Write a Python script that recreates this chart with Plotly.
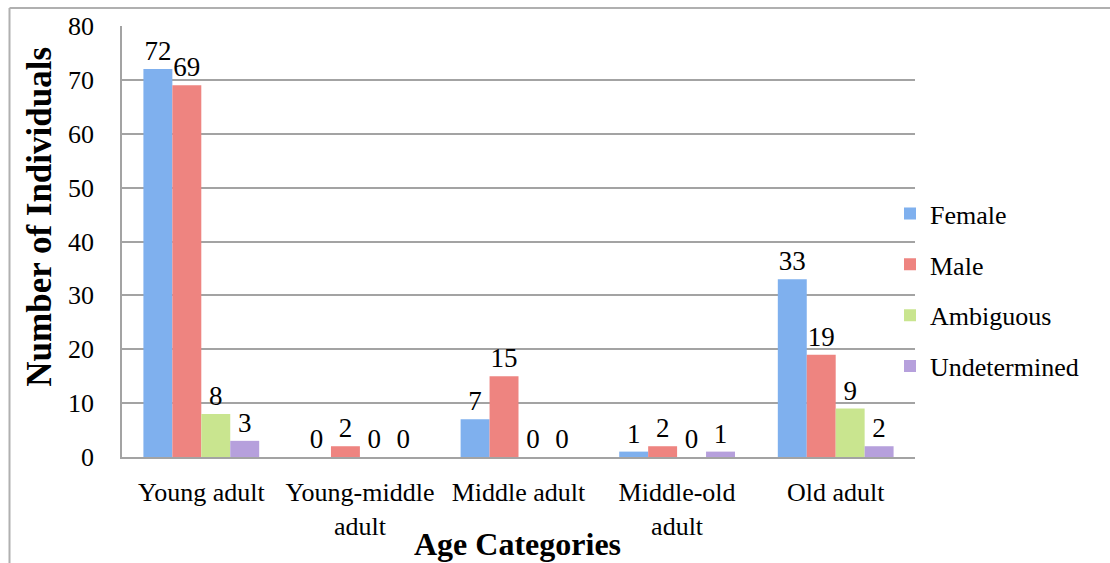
import plotly.graph_objects as go

# Age categories on the x axis
categories = ["Young adult", "Young-middle<br>adult", "Middle adult", "Middle-old<br>adult", "Old adult"]

# Counts per sex estimate
female = [72, 0, 7, 1, 33]
male = [69, 2, 15, 2, 19]
ambiguous = [8, 0, 0, 0, 9]
undetermined = [3, 0, 0, 1, 2]

series_names = ["Female", "Male", "Ambiguous", "Undetermined"]
series_values = [female, male, ambiguous, undetermined]
series_colors = ["#7FB0EE", "#EE8480", "#C9E58F", "#B6A0DC"]

y_ticks = [0, 10, 20, 30, 40, 50, 60, 70, 80]

FONT = "Liberation Serif"

fig = go.Figure()
for name, vals, col in zip(series_names, series_values, series_colors):
    fig.add_trace(go.Bar(
        x=categories,
        y=vals,
        name=name,
        legendgroup=name,
        marker=dict(color=col, line=dict(width=0)),
        text=[str(v) for v in vals],
        textposition="outside",
        textfont=dict(family=FONT, size=27, color="black"),
        cliponaxis=False,
    ))

# plot area: x 122..915, y 23..457 within a 1110x563 canvas
L, R, T, B = 122, 195, 23, 106
W, H = 1110 - L - R, 563 - T - B

def px(x):
    return (x - L) / W

def py(y):
    return (563 - B - y) / H

grid_col = "#A3A3A3"

fig.update_layout(
    width=1110,
    height=563,
    margin=dict(l=L, r=R, t=T, b=B, pad=0),
    paper_bgcolor="white",
    plot_bgcolor="white",
    barmode="group",
    bargap=0.27,
    bargroupgap=0,
    font=dict(family=FONT, size=26, color="black"),
    showlegend=True,
    legend=dict(
        x=px(890), y=py(289), xanchor="left", yanchor="middle",
        font=dict(family=FONT, size=26, color="black"),
        traceorder="grouped",
        tracegroupgap=14,
        itemwidth=30,
        bgcolor="rgba(0,0,0,0)",
    ),
    xaxis=dict(
        showgrid=False,
        showline=True,
        linecolor=grid_col,
        linewidth=2,
        ticks="",
        tickfont=dict(family=FONT, size=26, color="black"),
        ticklabelstandoff=11,
    ),
    yaxis=dict(
        range=[0, 80],
        tickvals=y_ticks,
        showgrid=True,
        gridcolor=grid_col,
        gridwidth=1.5,
        showline=True,
        linecolor=grid_col,
        linewidth=1.5,
        zeroline=False,
        ticks="",
        tickfont=dict(family=FONT, size=26, color="black"),
        ticklabelstandoff=21,
    ),
    annotations=[
        dict(text="<b>Number of Individuals</b>", xref="paper", yref="paper",
             x=px(40), y=py(215), textangle=-90, showarrow=False,
             xanchor="center", yanchor="middle",
             font=dict(family=FONT, size=35, color="black")),
        dict(text="<b>Age Categories</b>", xref="paper", yref="paper",
             x=px(517), y=py(545), showarrow=False,
             xanchor="center", yanchor="middle",
             font=dict(family=FONT, size=32, color="black")),
    ],
    shapes=[
        # outer chart frame (left and top edges)
        dict(type="line", xref="paper", yref="paper",
             x0=px(9.5), x1=px(9.5), y0=py(5), y1=py(570),
             line=dict(color="#B0B0B0", width=2)),
        dict(type="line", xref="paper", yref="paper",
             x0=px(9.5), x1=px(1115), y0=py(5), y1=py(5),
             line=dict(color="#B0B0B0", width=2)),
    ],
)

fig.write_html("out.html")
